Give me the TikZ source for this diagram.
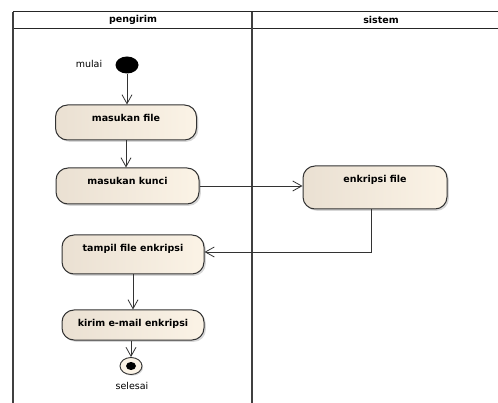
\documentclass[tikz,border=0pt]{standalone}
\usepackage{fontspec}
\setmainfont{DejaVu Sans}
\usetikzlibrary{arrows.meta,shadows,shapes.geometric}
\definecolor{boxL}{HTML}{EAE0D2}
\definecolor{boxR}{HTML}{FBF3E6}
\definecolor{edge}{HTML}{333333}
\tikzset{
  actbox/.style={draw=edge, line width=1pt, rounded corners=12pt, inner sep=0pt,
    left color=boxL, right color=boxR,
    drop shadow={shadow xshift=1.8pt, shadow yshift=-1.8pt, fill=black!35, opacity=0.45}},
  boxtext/.style={font=\fontsize{9.5}{11}\selectfont\bfseries, anchor=base, yshift=-17pt, inner sep=0pt},
  flow/.style={draw=black!80, line width=0.8pt, -{Straight Barb[length=9pt,width=10pt,line width=0.8pt]}},
  lane/.style={draw=black!75, line width=1.3pt},
  hline/.style={draw=black!85, line width=1pt},
  lanehead/.style={font=\fontsize{9.5}{11}\selectfont\bfseries, inner sep=0pt},
  plainlbl/.style={font=\fontsize{9.5}{11}\selectfont, inner sep=0pt}
}
\begin{document}
\begin{tikzpicture}[x=1pt,y=-1pt]
\useasboundingbox (0,0) rectangle (498,403);
% swimlanes
\draw[hline] (13,12) -- (498,12);
\draw[hline] (13,29) -- (498,29);
\draw[lane] (13,12) -- (13,403);
\draw[lane] (252,12) -- (252,403);
\node[lanehead] (hp) at (133,20) {pengirim};
\node[lanehead] (hs) at (381,20) {sistem};
% start
\node[ellipse, fill=black, minimum width=23pt, minimum height=17pt, inner sep=0pt] (start) at (127,65) {};
\node[plainlbl] (lstart) at (89,64) {mulai};
% actions
\node[actbox, minimum width=141pt, minimum height=35pt,
  label={[boxtext]north:masukan file}] (mf) at (126,122.5) {};
\node[actbox, minimum width=143pt, minimum height=36pt,
  label={[boxtext]north:masukan kunci}] (mk) at (127.5,186) {};
\node[actbox, minimum width=144pt, minimum height=43pt,
  label={[boxtext]north:enkripsi file}] (ef) at (375,187.5) {};
\node[actbox, minimum width=142pt, minimum height=39pt,
  label={[boxtext]north:tampil file enkripsi}] (tf) at (133,254.5) {};
\node[actbox, minimum width=142pt, minimum height=30pt,
  label={[boxtext]north:kirim e-mail enkripsi}] (km) at (133,325) {};
% final
\node[ellipse, draw=edge, line width=0.9pt, fill=boxR, minimum width=22pt, minimum height=17pt, inner sep=0pt,
  drop shadow={shadow xshift=1.2pt, shadow yshift=-1.2pt, fill=black!35, opacity=0.45}] (fin) at (131,366) {};
\node[ellipse, fill=black, minimum width=10pt, minimum height=8pt, inner sep=0pt] (findot) at (fin.center) {};
\node[plainlbl] (lfin) at (132,386) {selesai};
% flows
\draw[flow] (start.south) -- (start.south |- mf.north);
\draw[flow] (mf.south) -- (mf.south |- mk.north);
\draw[flow] (mk.east) -- (mk.east -| ef.west);
\draw[flow] ([xshift=-4pt]ef.south) |- ([yshift=2.5pt]tf.east);
\draw[flow] (tf.south) -- (km.north);
\draw[flow] (km.south -| fin.north) -- (fin.north);
\end{tikzpicture}
\end{document}
